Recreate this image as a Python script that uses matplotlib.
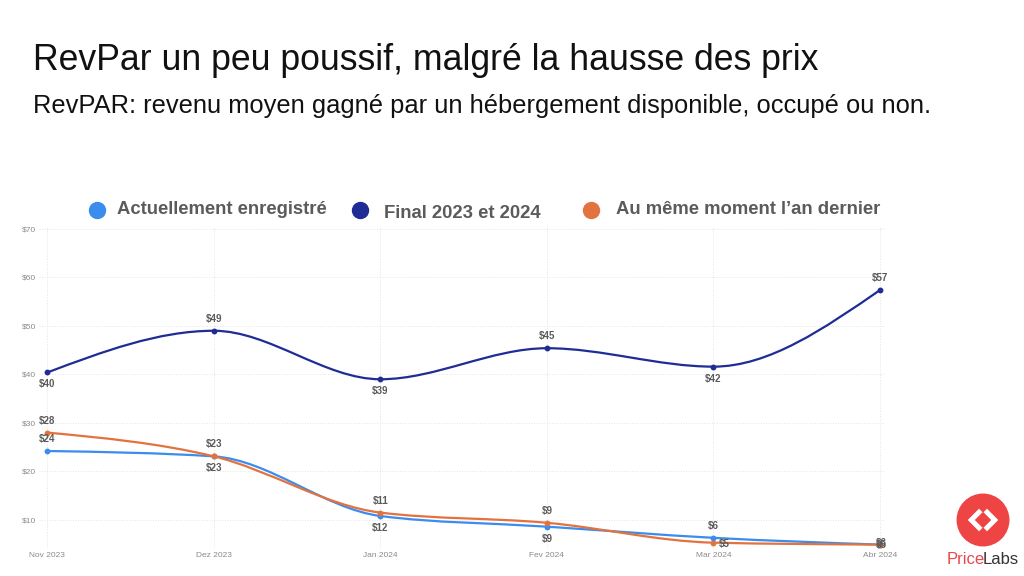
import numpy as np
import matplotlib.pyplot as plt
from matplotlib.path import Path
from matplotlib.patches import PathPatch, Circle

plt.rcParams['font.family'] = ['Liberation Sans', 'DejaVu Sans']

# Données
mois = ['Nov 2023', 'Dez 2023', 'Jan 2024', 'Fev 2024', 'Mar 2024', 'Abr 2024']
final = [40.4, 49.0, 39.0, 45.4, 41.6, 57.4]
actuel = [24.2, 23.1, 10.8, 8.6, 6.3, 4.9]
an_dernier = [28.0, 23.1, 11.5, 9.4, 5.3, 4.9]

lab_final = ['$40', '$49', '$39', '$45', '$42', '$57']
lab_actuel = ['$24', '$23', '$12', '$9', '$6', '$6']
lab_dernier = ['$28', '$23', '$11', '$9', '$5', '$5']

c_actuel = '#3b8ced'
c_final = '#1f2c96'
c_dernier = '#e2733f'


def monotone_path(x, y):
    # courbe lisse monotone (façon d3 curveMonotoneX) en segments de Bézier
    x = np.asarray(x, float)
    y = np.asarray(y, float)
    n = len(x)
    h = np.diff(x)
    s = np.diff(y) / h
    t = np.zeros(n)
    for i in range(1, n - 1):
        p = (s[i - 1] * h[i] + s[i] * h[i - 1]) / (h[i - 1] + h[i])
        t[i] = (np.sign(s[i - 1]) + np.sign(s[i])) * min(abs(s[i - 1]), abs(s[i]), 0.5 * abs(p))
    t[0] = (3 * s[0] - t[1]) / 2
    t[-1] = (3 * s[-1] - t[-2]) / 2
    verts = [(x[0], y[0])]
    codes = [Path.MOVETO]
    for i in range(n - 1):
        dx = h[i] / 3
        verts += [(x[i] + dx, y[i] + dx * t[i]), (x[i + 1] - dx, y[i + 1] - dx * t[i + 1]), (x[i + 1], y[i + 1])]
        codes += [Path.CURVE4] * 3
    return Path(verts, codes)


fig = plt.figure(figsize=(10.24, 5.76), dpi=100)
ax = fig.add_axes([39 / 1024, 1 - 548 / 576, 846 / 1024, 321 / 576])

xs = np.arange(len(mois))
for vals, col in [(actuel, c_actuel), (an_dernier, c_dernier), (final, c_final)]:
    ax.add_patch(PathPatch(monotone_path(xs, vals), fill=False, edgecolor=col, lw=1.6, zorder=3))
    ax.plot(xs, vals, 'o', color=col, ms=3.2, zorder=4)

lab_kw = dict(fontsize=7, fontweight='bold', color='#5a5a5a', ha='center', zorder=5)
# étiquettes de la série finale : alternance dessous / dessus
pos_final = ['below', 'above', 'below', 'above', 'below', 'above']
for i, (v, lab) in enumerate(zip(final, lab_final)):
    if pos_final[i] == 'above':
        ax.annotate(lab, (i, v), xytext=(0, 5), textcoords='offset points', va='bottom', **lab_kw)
    else:
        ax.annotate(lab, (i, v), xytext=(0, -5), textcoords='offset points', va='top', **lab_kw)

for i in range(len(mois)):
    if i < 4:
        if i == 0:
            ax.annotate(lab_dernier[i], (i, an_dernier[i]), xytext=(0, 5), textcoords='offset points', va='bottom', **lab_kw)
            ax.annotate(lab_actuel[i], (i, actuel[i]), xytext=(0, 5), textcoords='offset points', va='bottom', **lab_kw)
        else:
            ax.annotate(lab_dernier[i], (i, max(an_dernier[i], actuel[i])), xytext=(0, 5), textcoords='offset points', va='bottom', **lab_kw)
            ax.annotate(lab_actuel[i], (i, min(an_dernier[i], actuel[i])), xytext=(0, -5), textcoords='offset points', va='top', **lab_kw)
    elif i == 4:
        ax.annotate(lab_actuel[i], (i, actuel[i]), xytext=(0, 5), textcoords='offset points', va='bottom', **lab_kw)
        ax.annotate(lab_dernier[i], (i, an_dernier[i]), xytext=(8, -1), textcoords='offset points', va='center', **lab_kw)
    else:
        ax.annotate(lab_actuel[i], (i, actuel[i]), xytext=(1, 1), textcoords='offset points', va='center', **lab_kw)
        ax.annotate(lab_dernier[i], (i, an_dernier[i]), xytext=(1, 0), textcoords='offset points', va='center', **lab_kw)

ax.set_xlim(-0.05, 5.03)
ax.set_ylim(4.2, 70.4)
ax.set_xticks(xs)
ax.set_xticklabels(mois)
ax.set_yticks([10, 20, 30, 40, 50, 60, 70])
ax.set_yticklabels(['$10', '$20', '$30', '$40', '$50', '$60', '$70'])
ax.tick_params(length=0, labelsize=6, labelcolor='#8a8a8a', pad=3)
ax.tick_params(axis='y', pad=2)
ax.grid(True, color='#e4e4e4', lw=0.7, ls=':')
for sp in ax.spines.values():
    sp.set_visible(False)

# titres
fig.text(33 / 1024, 1 - 60 / 576, 'RevPar un peu poussif, malgré la hausse des prix',
         fontsize=25.7, color='#111111', va='center', ha='left')
fig.text(33 / 1024, 1 - 106 / 576, 'RevPAR: revenu moyen gagné par un hébergement disponible, occupé ou non.',
         fontsize=18.4, color='#111111', va='center', ha='left')

# légende
leg = [('Actuellement enregistré', c_actuel, 97, 117, 210),
       ('Final 2023 et 2024', c_final, 360, 384, 214),
       ('Au même moment l\u2019an dernier', c_dernier, 591, 616, 210)]
for txt, col, xm, xt, yt in leg:
    fig.lines.append(plt.Line2D([xm / 1024], [1 - 210 / 576], marker='o', ms=11.5, color=col,
                                transform=fig.transFigure, figure=fig))
    fig.text(xt / 1024, 1 - yt / 576, txt, fontsize=13.3, fontweight='bold', color='#5b5b5b',
             va='center', ha='left')

# logo PriceLabs
lax = fig.add_axes([955 / 1024, 1 - 548 / 576, 56 / 1024, 56 / 576])
lax.set_xlim(-1, 1)
lax.set_ylim(-1, 1)
lax.set_aspect('equal')
lax.axis('off')
lax.add_patch(Circle((0, 0), 0.92, color='#ee4444'))
lax.plot([-0.08, -0.42, -0.08], [0.34, 0.0, -0.34], color='white', lw=3.6, solid_capstyle='butt', solid_joinstyle='miter')
lax.plot([0.08, 0.42, 0.08], [0.34, 0.0, -0.34], color='white', lw=3.6, solid_capstyle='butt', solid_joinstyle='miter')
fig.text(947 / 1024, 1 - 560 / 576, 'Price', fontsize=12, color='#e8474c', va='center', ha='left')
fig.text(983 / 1024, 1 - 560 / 576, 'Labs', fontsize=12, color='#333333', va='center', ha='left')

fig.savefig('out.png', dpi=100)
